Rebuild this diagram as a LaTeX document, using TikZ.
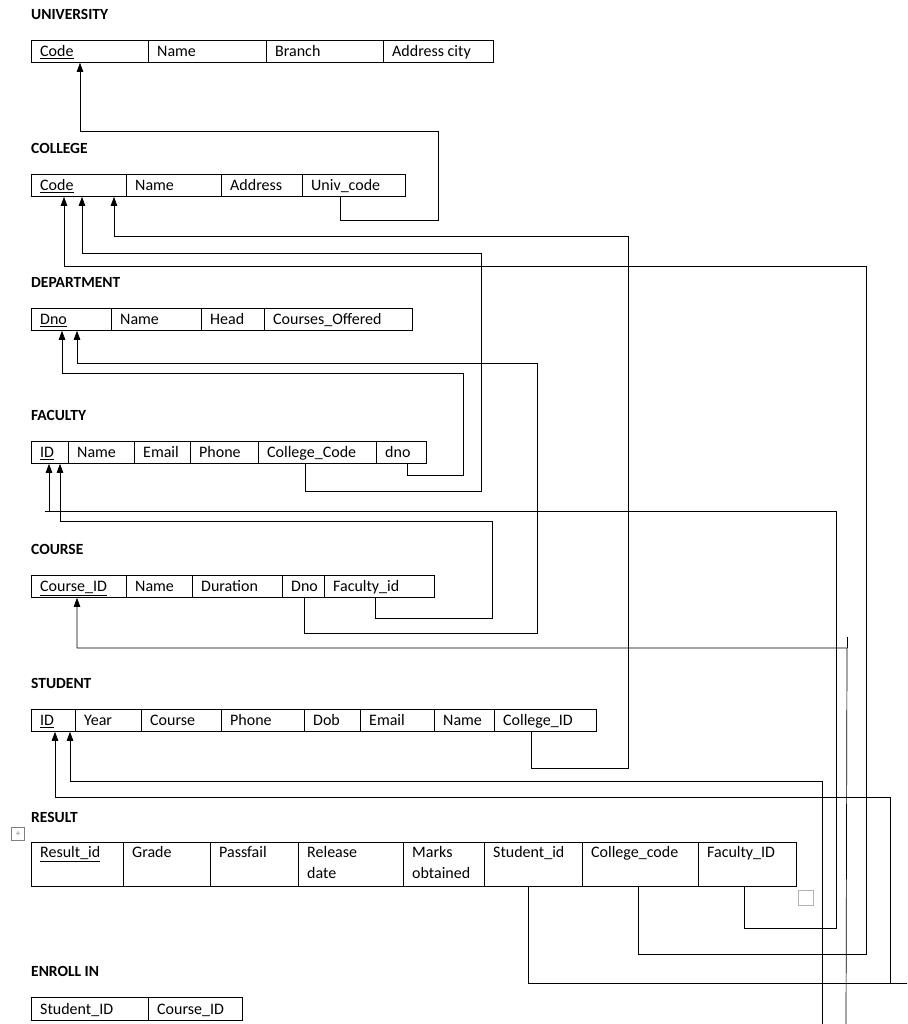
\documentclass[tikz,border=0pt]{standalone}
\usepackage{fontspec}
\setmainfont{Carlito}
\usetikzlibrary{arrows.meta,calc}
\newcommand\mycell[6]{%
  \node[cellbox,minimum width={(#3-#2)*1pt},minimum height={(#5-#4)*1pt}] (#1) at (#2,-#4) {};
  \node[celltext] (#1t) at ($(#1.west)+(8,-5.5)$) {#6};}
\newcommand\mytcell[6]{%
  \node[cellbox,minimum width={(#3-#2)*1pt},minimum height={(#5-#4)*1pt}] (#1) at (#2,-#4) {};
  \node[celltext,anchor=north west,align=left] (#1t) at ($(#1.north west)+(8,-3)$) {#6};}
\begin{document}
\begin{tikzpicture}[x=1pt,y=1pt,
  cellbox/.style={draw,line width=0.8pt,anchor=north west,inner sep=0pt},
  celltext/.style={anchor=base west,inner sep=1pt,font=\fontsize{16}{21.5}\selectfont},
  title/.style={anchor=west,inner sep=0pt,font=\fontsize{15.5}{18}\selectfont\bfseries},
  fk/.style={draw,line width=0.7pt,-{Triangle[length=9pt,width=6.5pt]}},
  ln/.style={draw,line width=0.7pt}]
\useasboundingbox (0,0) rectangle (907,-1024);
% UNIVERSITY
\node[title] (tu) at (31,-14) {UNIVERSITY};
\mycell{u1}{31}{148}{40}{62}{\underline{Code}}
\mycell{u2}{148}{266}{40}{62}{Name}
\mycell{u3}{266}{383}{40}{62}{Branch}
\mycell{u4}{383}{493}{40}{62}{Address city}
% COLLEGE
\node[title] (tc) at (31,-148) {COLLEGE};
\mycell{c1}{31}{126}{174}{196}{\underline{Code}}
\mycell{c2}{126}{221}{174}{196}{Name}
\mycell{c3}{221}{302}{174}{196}{Address}
\mycell{c4}{302}{405}{174}{196}{Univ\_code}
% DEPARTMENT
\node[title] (td) at (31,-282) {DEPARTMENT};
\mycell{d1}{31}{111}{308}{330}{\underline{Dno}}
\mycell{d2}{111}{201}{308}{330}{Name}
\mycell{d3}{201}{264}{308}{330}{Head}
\mycell{d4}{264}{412}{308}{330}{Courses\_Offered}
% FACULTY
\node[title] (tf) at (31,-415) {FACULTY};
\mycell{f1}{31}{68}{441}{463}{\underline{ID}}
\mycell{f2}{68}{134}{441}{463}{Name}
\mycell{f3}{134}{190}{441}{463}{Email}
\mycell{f4}{190}{258}{441}{463}{Phone}
\mycell{f5}{258}{376}{441}{463}{College\_Code}
\mycell{f6}{376}{426}{441}{463}{dno}
% COURSE
\node[title] (tco) at (31,-549) {COURSE};
\mycell{k1}{31}{126}{575}{597}{\underline{Course\_ID}}
\mycell{k2}{126}{192}{575}{597}{Name}
\mycell{k3}{192}{282}{575}{597}{Duration}
\mycell{k4}{282}{324}{575}{597}{Dno}
\mycell{k5}{324}{434}{575}{597}{Faculty\_id}
% STUDENT
\node[title] (ts) at (31,-683) {STUDENT};
\mycell{s1}{31}{75}{709}{731}{\underline{ID}}
\mycell{s2}{75}{141}{709}{731}{Year}
\mycell{s3}{141}{221}{709}{731}{Course}
\mycell{s4}{221}{304}{709}{731}{Phone}
\mycell{s5}{304}{360}{709}{731}{Dob}
\mycell{s6}{360}{434}{709}{731}{Email}
\mycell{s7}{434}{494}{709}{731}{Name}
\mycell{s8}{494}{596}{709}{731}{College\_ID}
% RESULT
\node[title] (tr) at (31,-817) {RESULT};
\node[draw=gray,line width=0.6pt,minimum size=13pt,inner sep=0pt,font=\small,text=gray] (mv) at (18,-834) {+};
\mytcell{r1}{31}{123}{842}{886}{\underline{Result\_id}}
\mytcell{r2}{123}{210}{842}{886}{Grade}
\mytcell{r3}{210}{298}{842}{886}{Passfail}
\mytcell{r4}{298}{403}{842}{886}{Release\\date}
\mytcell{r5}{403}{484}{842}{886}{Marks\\obtained}
\mytcell{r6}{484}{582}{842}{886}{Student\_id}
\mytcell{r7}{582}{698}{842}{886}{College\_code}
\mytcell{r8}{698}{796}{842}{886}{Faculty\_ID}
\node[draw=gray!60,line width=0.8pt,minimum size=15pt,inner sep=0pt,anchor=north west] (sq) at (798,-890) {};
% ENROLL IN
\node[title] (te) at (31,-971) {ENROLL IN};
\mycell{e1}{31}{148}{997}{1020}{Student\_ID}
\mycell{e2}{148}{242}{997}{1020}{Course\_ID}
% connectors
\coordinate (bot1) at (822,-1024);
\coordinate (bot2) at (846,-1024);
\draw[fk] (c4.south -| 340,0) -- (340,-220) -- (438,-220) -- (438,-131) -- (80,-131) -- (u1.south -| 80,0);
\draw[fk] (s8.south -| 531,0) -- (531,-768) -- (628,-768) -- (628,-236) -- (114,-236) -- (c1.south -| 114,0);
\draw[fk] (f5.south -| 305,0) -- (305,-491) -- (481,-491) -- (481,-253) -- (82,-253) -- (c1.south -| 82,0);
\draw[fk] (r7.south -| 638,0) -- (638,-954) -- (866,-954) -- (866,-266) -- (64,-266) -- (c1.south -| 64,0);
\draw[fk] (f6.south -| 407,0) -- (407,-475) -- (463,-475) -- (463,-373) -- (62,-373) -- (d1.south -| 62,0);
\draw[fk] (k4.south -| 304,0) -- (304,-633) -- (537,-633) -- (537,-363) -- (77,-363) -- (d1.south -| 77,0);
\draw[fk] (r8.south -| 744,0) -- (744,-928) -- (836,-928) -- (836,-511) -- (49,-511) -- (f1.south -| 49,0);
\draw[ln] (45,-511) -- (49,-511);
\draw[fk] (k5.south -| 375,0) -- (375,-618) -- (492,-618) -- (492,-521) -- (60,-521) -- (f1.south -| 60,0);
\draw[fk] (bot2) -- (847,-648) -- (77,-648) -- (k1.south -| 77,0);
\draw[ln] (847,-648) -- (847,-637);
\draw[fk] (bot1) -- (822,-781) -- (70,-781) -- (s1.south -| 70,0);
\draw[fk] (r6.south -| 528,0) -- (528,-983) -- (890,-983) -- (890,-797) -- (55,-797) -- (s1.south -| 55,0);
\draw[ln] (890,-983) -- (907,-983);
\end{tikzpicture}
\end{document}
